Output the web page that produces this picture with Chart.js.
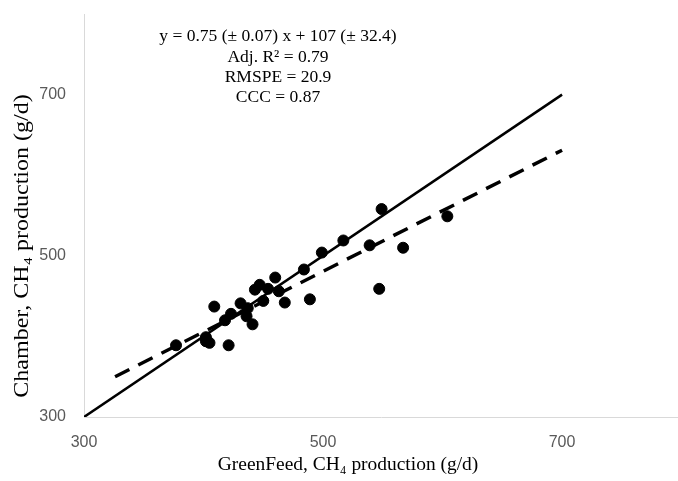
<!DOCTYPE html>
<html>
<head>
<meta charset="utf-8">
<script src="https://cdn.jsdelivr.net/npm/chart.js@4/dist/chart.umd.min.js"></script>
<style>
  body { margin: 0; background: #fff; }
  #wrap { width: 678px; height: 481px; }
</style>
</head>
<body>
<div id="wrap"><canvas id="chart" width="678" height="481"></canvas></div>
<script>
// Podatki (odčitani s slike)
const greenFeed = [377, 402, 405, 402, 421, 409, 418, 423, 431, 437, 436, 441, 443, 447, 450, 454, 460, 463, 468, 484, 489, 499, 517, 539, 547, 549, 567, 604];
const chamber   = [389, 399, 392, 394, 389, 437, 420, 428, 441, 435, 425, 415, 458, 464, 444, 459, 473, 456, 442, 483, 446, 504, 519, 513, 459, 558, 510, 549];

// 1:1 črta in regresijska črta
const identityX = [300, 700];
const identityY = [300, 700];
const regressionX = [326, 700];
const regressionY = [350, 631];

const tickValues = [300, 500, 700];
const xMin = 300, xMax = 797;
const yMin = 300, yMax = 800;

const xTitle = 'GreenFeed, CH\u2084 production (g/d)';
const yTitle = 'Chamber, CH\u2084 production (g/d)';
const statLines = [
    'y = 0.75 (\u00b1 0.07) x + 107 (\u00b1 32.4)',
    'Adj. R\u00b2 = 0.79',
    'RMSPE = 20.9',
    'CCC = 0.87'
];

const toPoints = (xs, ys) => xs.map((x, i) => ({ x: x, y: ys[i] }));

// Besedilo (enačba in naslovi osi)
const textPlugin = {
    id: 'textPlugin',
    afterDraw(chart) {
        const ctx = chart.ctx;
        ctx.save();
        ctx.fillStyle = '#000';
        ctx.font = '17.5px "Liberation Serif"';
        ctx.textAlign = 'center';
        ctx.textBaseline = 'alphabetic';
        const ys = [41, 61.5, 82, 102];
        statLines.forEach((t, i) => ctx.fillText(t, 278, ys[i]));

        ctx.font = '18px "Liberation Serif"';
        ctx.textBaseline = 'middle';
        ctx.save();
        ctx.translate(348, 465);
        ctx.scale(1.08, 1);
        ctx.fillText(xTitle, 0, 0);
        ctx.restore();

        ctx.translate(23, 246);
        ctx.rotate(-Math.PI / 2);
        ctx.scale(1.2, 1);
        ctx.font = '20px "Liberation Serif"';
        ctx.fillText(yTitle, 0, 0);
        ctx.restore();
    }
};

const axisCommon = {
    type: 'linear',
    grid: { display: false, drawTicks: false },
    border: { display: true, color: '#d9d9d9', width: 1 },
    afterBuildTicks: scale => { scale.ticks = tickValues.map(v => ({ value: v })); }
};

const ctx = document.getElementById('chart').getContext('2d');
const chart = new Chart(ctx, {
    type: 'scatter',
    data: {
        datasets: [
            {
                label: 'Meritve',
                data: toPoints(greenFeed, chamber),
                backgroundColor: '#000',
                borderColor: '#000',
                pointRadius: 5.5,
                pointHoverRadius: 5.5,
                order: 0
            },
            {
                label: '1:1',
                data: toPoints(identityX, identityY),
                showLine: true,
                borderColor: '#000',
                borderWidth: 2.5,
                pointRadius: 0,
                order: 1
            },
            {
                label: 'Regresija',
                data: toPoints(regressionX, regressionY),
                showLine: true,
                borderColor: '#000',
                borderWidth: 3.5,
                borderDash: [16, 10],
                pointRadius: 0,
                order: 2
            }
        ]
    },
    options: {
        responsive: false,
        animation: false,
        layout: { autoPadding: false, padding: { top: 14, right: 0, left: 0, bottom: 0 } },
        plugins: {
            legend: { display: false },
            tooltip: { enabled: false }
        },
        scales: {
            x: Object.assign({}, axisCommon, {
                min: xMin,
                max: xMax,
                ticks: { padding: 16, color: '#595959', font: { family: '"Liberation Sans"', size: 16 } },
                afterFit: scale => {
                    scale.height = 64;
                    scale.paddingLeft = 0;
                    scale.paddingRight = 0;
                }
            }),
            y: Object.assign({}, axisCommon, {
                min: yMin,
                max: yMax,
                ticks: { padding: 18, color: '#595959', font: { family: '"Liberation Sans"', size: 16 } },
                afterFit: scale => {
                    scale.width = 84;
                    scale.paddingTop = 0;
                    scale.paddingBottom = 0;
                }
            })
        }
    },
    plugins: [textPlugin]
});
</script>
</body>
</html>
